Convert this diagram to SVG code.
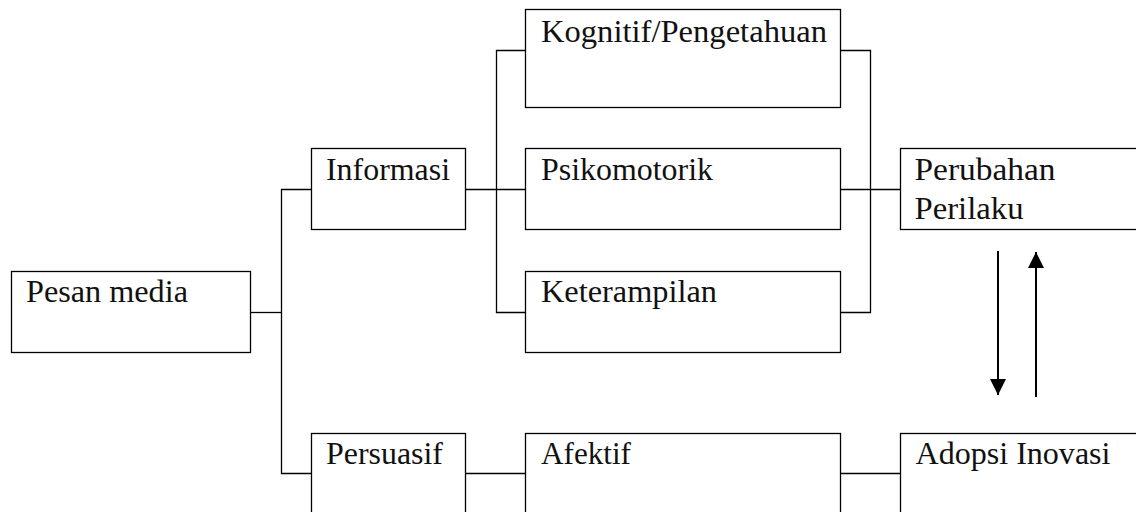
<svg xmlns="http://www.w3.org/2000/svg" width="1136" height="512" viewBox="0 0 1136 512">
<style>
.box{fill:#fff;stroke:#000;stroke-width:1.3}
.lbl{font-family:"Liberation Serif","Times New Roman",serif;font-size:31px;fill:#111}
.con{fill:none;stroke:#000;stroke-width:1.3}
.arr{fill:none;stroke:#000;stroke-width:2}
</style>
<defs>
<marker id="ah" viewBox="0 0 10 10" refX="10" refY="5" markerWidth="8" markerHeight="8" markerUnits="strokeWidth" orient="auto">
<path d="M0,0 L10,5 L0,10 z" fill="#000"/>
</marker>
</defs>
<rect width="1136" height="512" fill="#fff"/>
<g id="connectors">
<polyline class="con" points="250.5,312.5 281.5,312.5"/>
<polyline class="con" points="311.5,189.5 281.5,189.5 281.5,473.5 311.5,473.5"/>
<polyline class="con" points="465.5,189.5 525.5,189.5"/>
<polyline class="con" points="525.5,50.5 496.5,50.5 496.5,312.5 525.5,312.5"/>
<polyline class="con" points="840.5,50.5 870.5,50.5 870.5,312.5 840.5,312.5"/>
<polyline class="con" points="840.5,189.5 900.5,189.5"/>
<polyline class="con" points="465.5,473.5 525.5,473.5"/>
<polyline class="con" points="840.5,473.5 900.5,473.5"/>
<line class="arr" x1="998" y1="251" x2="998" y2="395" marker-end="url(#ah)"/>
<line class="arr" x1="1036" y1="397" x2="1036" y2="252" marker-end="url(#ah)"/>
</g>
<g id="pesan-media">
<rect class="box" x="11.5" y="271.5" width="239" height="81"/>
<text class="lbl" x="26" y="302" textLength="162" lengthAdjust="spacingAndGlyphs">Pesan media</text>
</g>
<g id="informasi">
<rect class="box" x="311.5" y="148.5" width="154" height="81"/>
<text class="lbl" x="326" y="180" textLength="124" lengthAdjust="spacingAndGlyphs">Informasi</text>
</g>
<g id="persuasif">
<rect class="box" x="311.5" y="433.5" width="154" height="90"/>
<text class="lbl" x="326" y="464" textLength="117" lengthAdjust="spacingAndGlyphs">Persuasif</text>
</g>
<g id="kognitif">
<rect class="box" x="525.5" y="9.5" width="315" height="98"/>
<text class="lbl" x="541" y="41.5" textLength="286" lengthAdjust="spacingAndGlyphs">Kognitif/Pengetahuan</text>
</g>
<g id="psikomotorik">
<rect class="box" x="525.5" y="148.5" width="315" height="81"/>
<text class="lbl" x="541" y="180" textLength="172" lengthAdjust="spacingAndGlyphs">Psikomotorik</text>
</g>
<g id="keterampilan">
<rect class="box" x="525.5" y="271.5" width="315" height="81"/>
<text class="lbl" x="541" y="302" textLength="176" lengthAdjust="spacingAndGlyphs">Keterampilan</text>
</g>
<g id="afektif">
<rect class="box" x="525.5" y="433.5" width="315" height="90"/>
<text class="lbl" x="541" y="464" textLength="90" lengthAdjust="spacingAndGlyphs">Afektif</text>
</g>
<g id="perubahan-perilaku">
<rect class="box" x="900.5" y="148.5" width="260" height="81"/>
<text class="lbl" x="914.5" y="180" textLength="141" lengthAdjust="spacingAndGlyphs">Perubahan</text>
<text class="lbl" x="914.5" y="219" textLength="109" lengthAdjust="spacingAndGlyphs">Perilaku</text>
</g>
<g id="adopsi-inovasi">
<rect class="box" x="900.5" y="433.5" width="260" height="90"/>
<text class="lbl" x="915.5" y="464" textLength="195" lengthAdjust="spacingAndGlyphs">Adopsi Inovasi</text>
</g>
</svg>
